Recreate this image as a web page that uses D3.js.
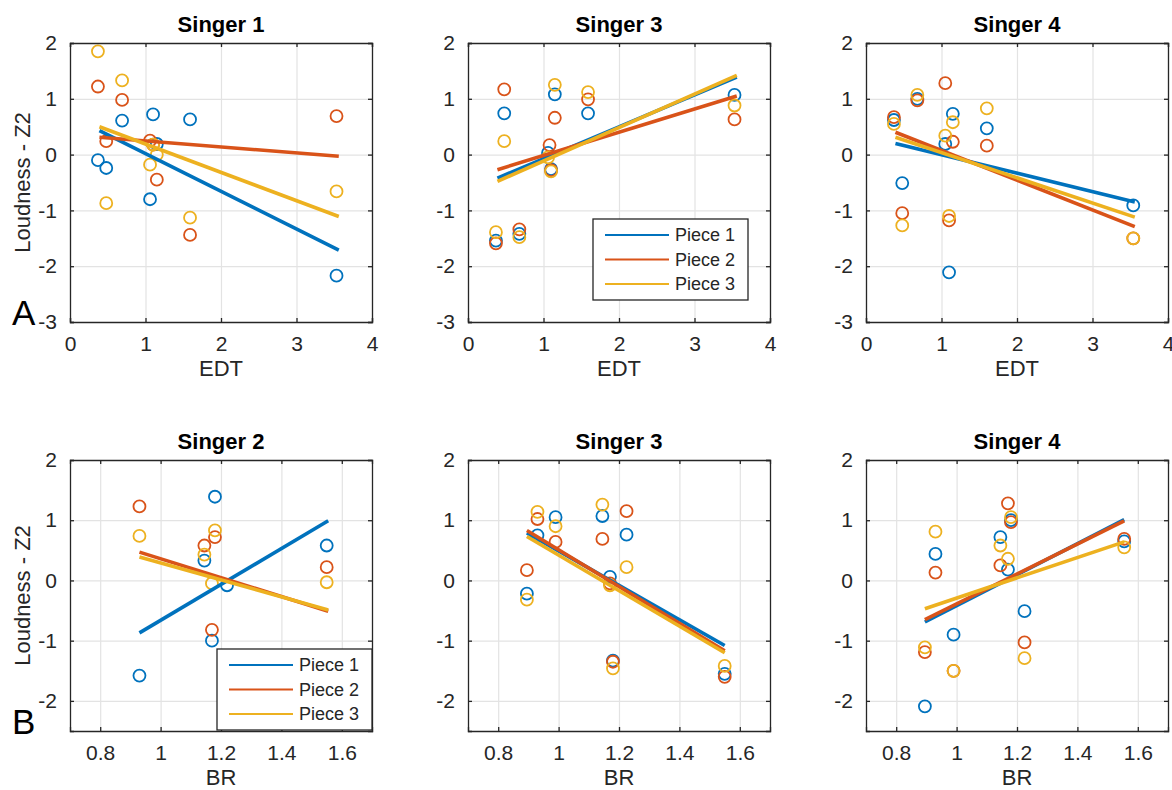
<!DOCTYPE html>
<html>
<head>
<meta charset="utf-8">
<script src="https://cdn.jsdelivr.net/npm/d3@7"></script>
<style>
body { margin: 0; background: #fff; }
text { font-family: "Liberation Sans", Arial, Helvetica, sans-serif; fill: #262626; }
</style>
</head>
<body>
<svg id="fig" width="1172" height="790"></svg>
<script>
// ---- data ----
const pieceNames = ["Piece 1", "Piece 2", "Piece 3"];
const pieceColors = ["#0072bd", "#d95319", "#edb120"];

const edtXTicks = [0, 1, 2, 3, 4];
const edtYTicks = [-3, -2, -1, 0, 1, 2];
const brXTicks = [0.8, 1, 1.2, 1.4, 1.6];
const brYTicks = [-2, -1, 0, 1, 2];

// row A : loudness vs EDT, [EDT, loudness] per piece
const s1EdtP1 = [[0.37,-0.10],[0.48,-0.24],[0.69,0.61],[1.06,-0.80],[1.10,0.72],[1.15,0.19],[1.59,0.63],[3.53,-2.17]];
const s1EdtP2 = [[0.37,1.22],[0.48,0.24],[0.69,0.98],[1.06,0.25],[1.10,0.18],[1.15,-0.45],[1.59,-1.44],[3.53,0.69]];
const s1EdtP3 = [[0.37,1.85],[0.48,-0.87],[0.69,1.33],[1.06,-0.18],[1.10,0.18],[1.15,0.0],[1.59,-1.13],[3.53,-0.66]];
const s1EdtFit = [[0.39,0.43,3.56,-1.71],[0.39,0.31,3.56,-0.03],[0.39,0.50,3.56,-1.11]];

const s3EdtP1 = [[0.37,-1.54],[0.48,0.74],[0.68,-1.42],[1.06,0.03],[1.10,-0.26],[1.15,1.08],[1.59,0.74],[3.53,1.07]];
const s3EdtP2 = [[0.37,-1.59],[0.48,1.17],[0.68,-1.34],[1.08,0.17],[1.10,-0.28],[1.15,0.66],[1.59,0.99],[3.53,0.63]];
const s3EdtP3 = [[0.37,-1.39],[0.48,0.24],[0.68,-1.48],[1.06,-0.05],[1.10,-0.30],[1.15,1.25],[1.59,1.12],[3.53,0.88]];
const s3EdtFit = [[0.39,-0.42,3.56,1.39],[0.39,-0.27,3.56,1.05],[0.39,-0.48,3.56,1.42]];

const s4EdtP1 = [[0.37,0.62],[0.48,-0.51],[0.68,1.0],[1.05,0.19],[1.10,-2.11],[1.15,0.73],[1.60,0.47],[3.54,-0.91]];
const s4EdtP2 = [[0.37,0.67],[0.48,-1.05],[0.68,0.97],[1.05,1.28],[1.10,-1.18],[1.15,0.23],[1.60,0.16],[3.54,-1.50]];
const s4EdtP3 = [[0.37,0.55],[0.48,-1.27],[0.68,1.07],[1.05,0.34],[1.10,-1.10],[1.15,0.58],[1.60,0.83],[3.54,-1.50]];
const s4EdtFit = [[0.39,0.20,3.56,-0.85],[0.39,0.40,3.56,-1.29],[0.39,0.31,3.56,-1.12]];

// row B : loudness vs BR
const s2BrP1 = [[0.93,-1.58],[1.145,0.33],[1.17,-1.0],[1.18,1.39],[1.22,-0.08],[1.55,0.58]];
const s2BrP2 = [[0.93,1.23],[1.145,0.58],[1.17,-0.82],[1.18,0.72],[1.55,0.22]];
const s2BrP3 = [[0.93,0.74],[1.145,0.43],[1.17,-0.05],[1.18,0.83],[1.55,-0.03]];
const s2BrFit = [[0.93,-0.87,1.555,0.99],[0.93,0.47,1.555,-0.51],[0.93,0.39,1.555,-0.49]];

const s3BrP1 = [[0.895,-0.22],[0.93,0.75],[0.99,1.05],[1.145,1.07],[1.17,0.06],[1.18,-1.33],[1.225,0.76],[1.55,-1.55]];
const s3BrP2 = [[0.895,0.17],[0.93,1.02],[0.99,0.64],[1.145,0.69],[1.17,-0.05],[1.18,-1.35],[1.225,1.15],[1.55,-1.60]];
const s3BrP3 = [[0.895,-0.32],[0.93,1.14],[0.99,0.90],[1.145,1.26],[1.17,-0.08],[1.18,-1.46],[1.225,0.22],[1.55,-1.42]];
const s3BrFit = [[0.895,0.79,1.55,-1.08],[0.895,0.83,1.55,-1.17],[0.895,0.73,1.55,-1.20]];

const s4BrP1 = [[0.895,-2.09],[0.93,0.44],[0.99,-0.90],[1.145,0.72],[1.17,0.18],[1.18,1.0],[1.225,-0.51],[1.555,0.65]];
const s4BrP2 = [[0.895,-1.19],[0.93,0.13],[0.99,-1.5],[1.145,0.25],[1.17,1.28],[1.18,0.97],[1.225,-1.03],[1.555,0.69]];
const s4BrP3 = [[0.895,-1.11],[0.93,0.81],[0.99,-1.50],[1.145,0.58],[1.17,0.36],[1.18,1.05],[1.225,-1.29],[1.555,0.55]];
const s4BrFit = [[0.895,-0.69,1.555,1.01],[0.895,-0.65,1.555,0.99],[0.895,-0.47,1.555,0.64]];

// ---- layout ----
const colLeft = [70, 468, 866];
const plotW = 302;
const rows = [
    {top: 43, h: 279, xDom: [0, 4], yDom: [-3, 2], xTicks: edtXTicks, yTicks: edtYTicks, xLabel: "EDT", letter: "A"},
    {top: 460, h: 271, xDom: [0.7, 1.7], yDom: [-2.5, 2], xTicks: brXTicks, yTicks: brYTicks, xLabel: "BR", letter: "B"}
];

const panels = [
    {row: 0, col: 0, title: "Singer 1", pts: [s1EdtP1, s1EdtP2, s1EdtP3], fit: s1EdtFit},
    {row: 0, col: 1, title: "Singer 3", pts: [s3EdtP1, s3EdtP2, s3EdtP3], fit: s3EdtFit, legend: {x: 125, y: 176}},
    {row: 0, col: 2, title: "Singer 4", pts: [s4EdtP1, s4EdtP2, s4EdtP3], fit: s4EdtFit},
    {row: 1, col: 0, title: "Singer 2", pts: [s2BrP1, s2BrP2, s2BrP3], fit: s2BrFit, legend: {x: 147, y: 189}},
    {row: 1, col: 1, title: "Singer 3", pts: [s3BrP1, s3BrP2, s3BrP3], fit: s3BrFit},
    {row: 1, col: 2, title: "Singer 4", pts: [s4BrP1, s4BrP2, s4BrP3], fit: s4BrFit}
];

const svg = d3.select("#fig");

panels.forEach(p => {
    let r = rows[p.row];
    let left = colLeft[p.col];
    let g = svg.append("g").attr("transform", "translate(" + left + "," + r.top + ")");

    let x = d3.scaleLinear().domain(r.xDom).range([0, plotW]);
    let y = d3.scaleLinear().domain(r.yDom).range([r.h, 0]);

    // grid
    g.append("g").attr("transform", "translate(0," + r.h + ")")
        .call(d3.axisBottom(x).tickValues(r.xTicks).tickSize(-r.h).tickFormat(""))
        .call(a => a.select(".domain").remove())
        .call(a => a.selectAll("line").attr("stroke", "#e3e3e3").attr("stroke-width", 1.2));
    g.append("g")
        .call(d3.axisLeft(y).tickValues(r.yTicks).tickSize(-plotW).tickFormat(""))
        .call(a => a.select(".domain").remove())
        .call(a => a.selectAll("line").attr("stroke", "#e3e3e3").attr("stroke-width", 1.2));

    // points
    p.pts.forEach((arr, i) => {
        g.append("g").selectAll("circle").data(arr).join("circle")
            .attr("cx", d => x(d[0]))
            .attr("cy", d => y(d[1]))
            .attr("r", 6)
            .attr("fill", "none")
            .attr("stroke", pieceColors[i])
            .attr("stroke-width", 1.8);
    });

    // fit lines
    p.fit.forEach((f, i) => {
        g.append("line")
            .attr("x1", x(f[0])).attr("y1", y(f[1]))
            .attr("x2", x(f[2])).attr("y2", y(f[3]))
            .attr("stroke", pieceColors[i])
            .attr("stroke-width", 3.6);
    });

    // axes with inward ticks on all sides (plain hyphen minus like the original)
    let fmt = d => String(d);
    let ax = g.append("g").attr("transform", "translate(0," + r.h + ")")
        .call(d3.axisBottom(x).tickValues(r.xTicks).tickSize(-4).tickPadding(13).tickFormat(fmt));
    let ay = g.append("g")
        .call(d3.axisLeft(y).tickValues(r.yTicks).tickSize(-4).tickPadding(13).tickFormat(fmt));
    let at = g.append("g")
        .call(d3.axisTop(x).tickValues(r.xTicks).tickSize(-4).tickFormat(""));
    let ar = g.append("g").attr("transform", "translate(" + plotW + ",0)")
        .call(d3.axisRight(y).tickValues(r.yTicks).tickSize(-4).tickFormat(""));
    [ax, ay, at, ar].forEach(a => {
        a.selectAll("path,line").attr("stroke", "#262626").attr("stroke-width", 1.3);
        a.selectAll("text").style("font-size", "21px").attr("fill", "#262626")
            .style("font-family", "'Liberation Sans', Arial, sans-serif");
    });
    ax.selectAll("text").attr("dy", "0.74em");

    // title
    g.append("text")
        .attr("x", plotW / 2).attr("y", -11)
        .attr("text-anchor", "middle")
        .style("font-size", "22px").style("font-weight", "bold")
        .style("fill", "#000")
        .text(p.title);

    // x label
    g.append("text")
        .attr("x", plotW / 2).attr("y", r.h + 54)
        .attr("text-anchor", "middle")
        .style("font-size", "22px")
        .text(r.xLabel);

    if (p.col === 0) {
        g.append("text")
            .attr("transform", "translate(-40," + (r.h / 2) + ") rotate(-90)")
            .attr("text-anchor", "middle")
            .style("font-size", "22px")
            .text("Loudness - Z2");
        g.append("text")
            .attr("x", -58).attr("y", r.h + 3)
            .style("font-size", "35px")
            .style("fill", "#000")
            .text(r.letter);
    }

    if (p.legend) {
        let lg = g.append("g").attr("transform", "translate(" + p.legend.x + "," + p.legend.y + ")");
        lg.append("rect")
            .attr("width", 155).attr("height", 81)
            .attr("fill", "#fff").attr("stroke", "#262626").attr("stroke-width", 1.3);
        pieceNames.forEach((n, i) => {
            let yy = 16 + i * 24.5;
            lg.append("line")
                .attr("x1", 12).attr("x2", 76).attr("y1", yy).attr("y2", yy)
                .attr("stroke", pieceColors[i]).attr("stroke-width", 2.2);
            lg.append("text")
                .attr("x", 82).attr("y", yy).attr("dy", "0.35em")
                .style("font-size", "18px")
                .text(n);
        });
    }
});
</script>
</body>
</html>
